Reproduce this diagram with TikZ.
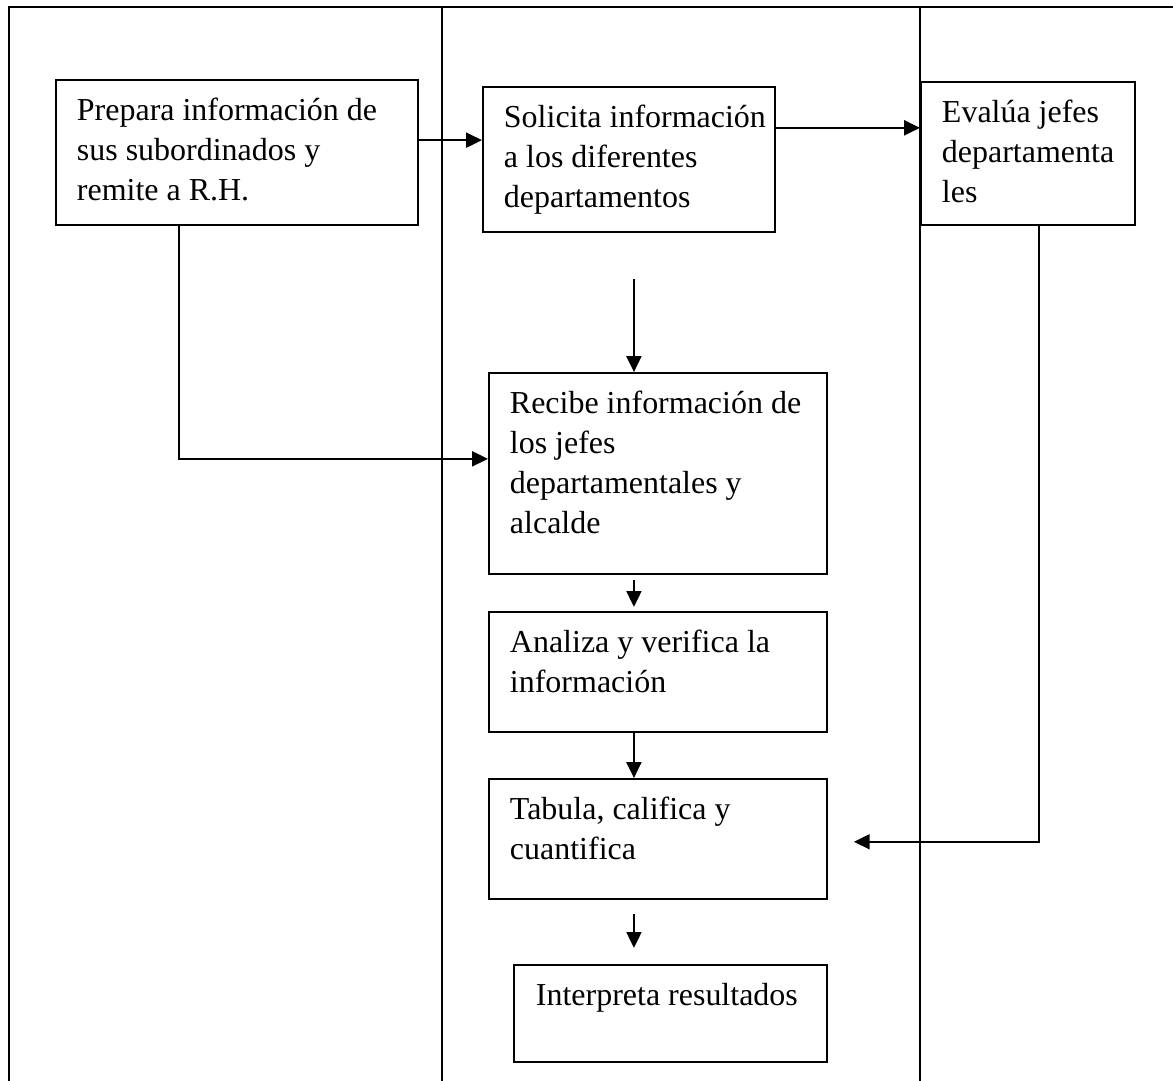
\documentclass[tikz,border=0pt]{standalone}
\usepackage{fontspec}
\setmainfont{Liberation Serif}
\usepackage{tikz}
\usetikzlibrary{arrows.meta,positioning}

% one pixel of the original page
\newlength{\px}
\setlength{\px}{0.56906pt}
% box text: width, height (px), lines
\newcommand{\steptext}[3]{\parbox[c][#2\px][t]{#1\px}{\raggedright\leftskip=21\px
  \vspace*{12\px}\strut #3}}

\begin{document}
\begin{tikzpicture}[x=0.02cm, y=-0.02cm, line width=1.1pt,
    stepbox/.style={draw, inner sep=0pt, anchor=north west,
      font=\fontsize{18.2}{22.8}\selectfont},
    flecha/.style={-{Triangle[length=9pt,width=8.5pt]}}]
    \useasboundingbox (0,0) rectangle (1173,1081);

    % swimlanes
    \draw (9,1081) -- (9,7) -- (1173,7);
    \draw (442,7) -- (442,1081);
    \draw (920,7) -- (920,1081);

    % boxes
    \node[stepbox] (prepara) at (55,79)
      {\steptext{362}{145}{Prepara información de\\sus subordinados y\\remite a R.H.}};
    \node[stepbox] (solicita) at (482,86)
      {\steptext{292}{145}{Solicita información\\a los diferentes\\departamentos}};
    \node[stepbox] (evalua) at (920,81)
      {\steptext{214}{143}{Evalúa jefes\\departamenta\\les}};
    \node[stepbox] (recibe) at (488,372)
      {\steptext{338}{201}{Recibe información de\\los jefes\\departamentales y\\alcalde}};
    \node[stepbox] (analiza) at (488,611)
      {\steptext{338}{120}{Analiza y verifica la\\información}};
    \node[stepbox] (tabula) at (488,778)
      {\steptext{338}{120}{Tabula, califica y\\cuantifica}};
    \node[stepbox] (interpreta) at (513,964)
      {\steptext{313}{97}{\hspace*{1\px}Interpreta resultados}};

    % connectors
    \coordinate (p1) at ([yshift=7pt]prepara.east);
    \draw[flecha] (p1) -- (p1 -| solicita.west);
    \coordinate (s1) at ([yshift=18pt]solicita.east);
    \draw[flecha] (s1) -- (s1 -| evalua.west);
    \coordinate (s2) at ([xshift=5\px,yshift=-46\px]solicita.south);
    \draw[flecha] (s2) -- (s2 |- recibe.north);
    \coordinate (p2) at ([xshift=-58\px]prepara.south);
    \coordinate (p3) at ([yshift=-233\px]p2);
    \draw[flecha] (p2) -- (p3) -- (p3 -| recibe.west);
    \coordinate (r1) at ([xshift=-24\px,yshift=-5\px]recibe.south);
    \draw[flecha] (r1) -- ([yshift=-27\px]r1);
    \coordinate (a1) at ([xshift=-24\px]analiza.south);
    \draw[flecha] (a1) -- (a1 |- tabula.north);
    \coordinate (t1) at ([xshift=-24\px,yshift=-14\px]tabula.south);
    \draw[flecha] (t1) -- ([yshift=-34\px]t1);
    \coordinate (e1) at ([xshift=11\px]evalua.south);
    \coordinate (e2) at ([yshift=-616\px]e1);
    \draw[flecha] (e1) -- (e2) -- ([xshift=26\px]e2 -| tabula.east);
\end{tikzpicture}
\end{document}
